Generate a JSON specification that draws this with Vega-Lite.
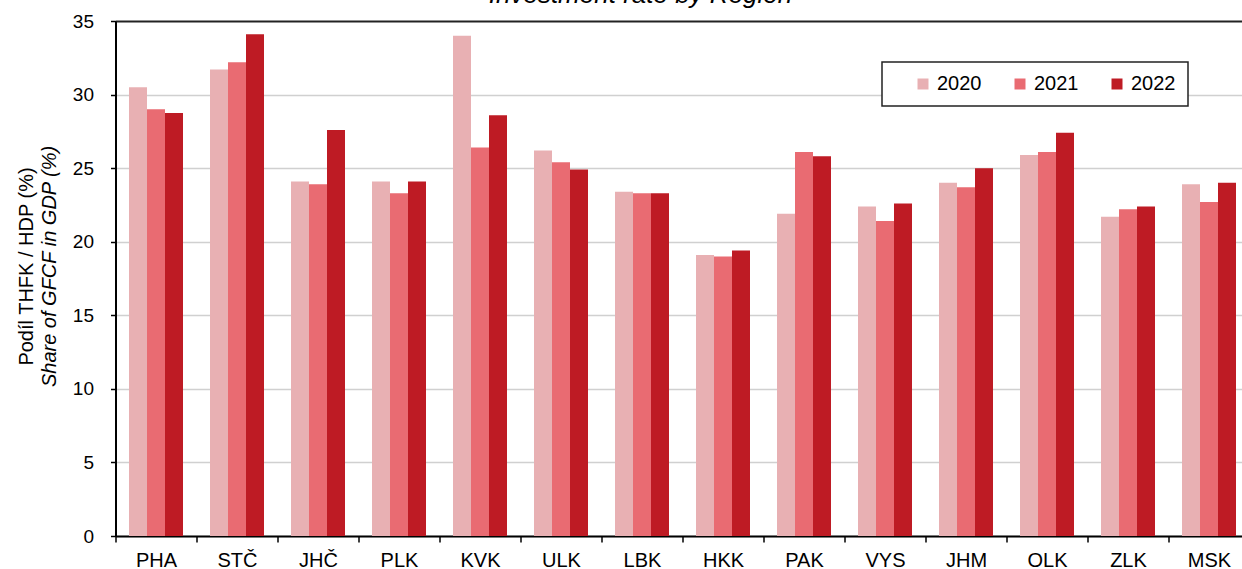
{
  "$schema": "https://vega.github.io/schema/vega-lite/v6.json",
  "width": 1134,
  "height": 515,
  "autosize": {"type": "none"},
  "padding": {"left": 115.5, "top": 21, "right": -8, "bottom": 33},
  "title": {"text": "Investment rate by Region", "font": "Liberation Sans", "fontSize": 26, "fontStyle": "italic", "fontWeight": "normal", "color": "#000", "anchor": "middle", "frame": "group", "dx": -42, "offset": 4},
  "config": {
    "font": "Liberation Sans",
    "view": {"stroke": null},
    "legend": {"strokeWidth": 1.5}
  },
  "data": {"values": [
    {"region": "PHA", "year": "2020", "value": 30.5}, {"region": "PHA", "year": "2021", "value": 29.0}, {"region": "PHA", "year": "2022", "value": 28.75},
    {"region": "STČ", "year": "2020", "value": 31.7}, {"region": "STČ", "year": "2021", "value": 32.2}, {"region": "STČ", "year": "2022", "value": 34.1},
    {"region": "JHČ", "year": "2020", "value": 24.1}, {"region": "JHČ", "year": "2021", "value": 23.9}, {"region": "JHČ", "year": "2022", "value": 27.6},
    {"region": "PLK", "year": "2020", "value": 24.1}, {"region": "PLK", "year": "2021", "value": 23.3}, {"region": "PLK", "year": "2022", "value": 24.1},
    {"region": "KVK", "year": "2020", "value": 34.0}, {"region": "KVK", "year": "2021", "value": 26.4}, {"region": "KVK", "year": "2022", "value": 28.6},
    {"region": "ULK", "year": "2020", "value": 26.2}, {"region": "ULK", "year": "2021", "value": 25.4}, {"region": "ULK", "year": "2022", "value": 24.9},
    {"region": "LBK", "year": "2020", "value": 23.4}, {"region": "LBK", "year": "2021", "value": 23.3}, {"region": "LBK", "year": "2022", "value": 23.3},
    {"region": "HKK", "year": "2020", "value": 19.1}, {"region": "HKK", "year": "2021", "value": 19.0}, {"region": "HKK", "year": "2022", "value": 19.4},
    {"region": "PAK", "year": "2020", "value": 21.9}, {"region": "PAK", "year": "2021", "value": 26.1}, {"region": "PAK", "year": "2022", "value": 25.8},
    {"region": "VYS", "year": "2020", "value": 22.4}, {"region": "VYS", "year": "2021", "value": 21.4}, {"region": "VYS", "year": "2022", "value": 22.6},
    {"region": "JHM", "year": "2020", "value": 24.0}, {"region": "JHM", "year": "2021", "value": 23.7}, {"region": "JHM", "year": "2022", "value": 25.0},
    {"region": "OLK", "year": "2020", "value": 25.9}, {"region": "OLK", "year": "2021", "value": 26.1}, {"region": "OLK", "year": "2022", "value": 27.4},
    {"region": "ZLK", "year": "2020", "value": 21.7}, {"region": "ZLK", "year": "2021", "value": 22.2}, {"region": "ZLK", "year": "2022", "value": 22.4},
    {"region": "MSK", "year": "2020", "value": 23.9}, {"region": "MSK", "year": "2021", "value": 22.7}, {"region": "MSK", "year": "2022", "value": 24.0}
  ]},
  "layer": [
    {
      "mark": {"type": "bar"},
      "encoding": {
        "x": {"field": "region", "type": "nominal", "sort": null,
          "scale": {"paddingInner": 0, "paddingOuter": 0},
          "axis": {"title": null, "labelAngle": 0, "tickBand": "extent", "labelFont": "Liberation Sans", "labelFontSize": 20, "labelColor": "#000", "tickColor": "#000", "tickSize": 6, "tickWidth": 1.5, "domainColor": "#000", "domainWidth": 2, "labelPadding": 8, "grid": false}},
        "y": {"field": "value", "type": "quantitative",
          "scale": {"domain": [0, 35], "nice": false},
          "axis": {"values": [0, 5, 10, 15, 20, 25, 30, 35], "title": "Share of GFCF in GDP (%)", "titleFont": "Liberation Sans", "titleFontStyle": "italic", "titleFontWeight": "normal", "titleFontSize": 20, "titleColor": "#000", "titlePadding": 13, "titleY": 245, "labelFont": "Liberation Sans", "labelFontSize": 19, "labelColor": "#000", "labelPadding": 17, "tickSize": 5, "tickColor": "#000", "tickWidth": 1.5,
            "gridColor": {"condition": {"test": "datum.value === 35", "value": "#222"}, "value": "#d0d0d0"},
            "gridWidth": {"condition": {"test": "datum.value === 35", "value": 2}, "value": 1.5},
            "domainColor": "#000", "domainWidth": 2}},
        "xOffset": {"field": "year", "type": "nominal", "scale": {"paddingInner": 0, "paddingOuter": 0.75}},
        "color": {"field": "year", "type": "nominal",
          "scale": {"domain": ["2020", "2021", "2022"], "range": ["#E8B0B3", "#E96B72", "#BE1B24"]},
          "legend": {"title": null, "orient": "none", "legendX": 766.5, "legendY": 41, "direction": "horizontal", "strokeColor": "#222", "fillColor": "#fff", "padding": 12, "symbolType": "square", "symbolSize": 121, "symbolStrokeWidth": 0, "labelFont": "Liberation Sans", "labelFontSize": 20, "labelColor": "#000", "columnPadding": 9, "labelOffset": 4, "symbolOffset": 19}}
      }
    },
    {
      "mark": {"type": "point", "opacity": 0},
      "encoding": {
        "x": {"field": "region", "type": "nominal", "sort": null},
        "y": {"field": "value", "type": "quantitative",
          "axis": {"orient": "left", "title": "Podíl THFK / HDP (%)", "titleFont": "Liberation Sans", "titleFontWeight": "normal", "titleFontSize": 20, "titleColor": "#000", "titlePadding": 79, "titleY": 245, "labels": false, "ticks": false, "domain": false, "grid": false}}
      }
    }
  ],
  "resolve": {"axis": {"y": "independent"}}
}
